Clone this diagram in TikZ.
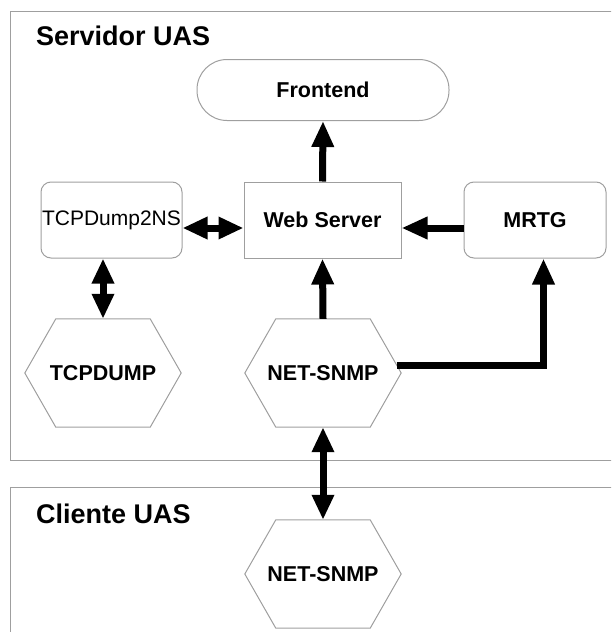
\documentclass[tikz,border=0pt]{standalone}
\usepackage{fontspec}
\setmainfont{Liberation Sans}
\usetikzlibrary{arrows.meta,positioning}

\begin{document}
\begin{tikzpicture}[x=1pt,y=-1pt,
    txt/.style={font=\fontsize{21.5}{24}\selectfont\bfseries},
    title/.style={anchor=base west, inner sep=0pt, font=\fontsize{27}{30}\selectfont\bfseries},
    edge/.style={draw=gray!75, line width=1pt},
    blk/.style={edge, inner sep=0pt, minimum height=76pt, txt},
    hexa/.style={inner sep=0pt, minimum width=156pt, minimum height=108pt, txt},
    arr/.style={line width=7pt, -{Triangle[length=26pt,width=21pt]}},
    darr/.style={line width=7pt, {Triangle[length=25pt,width=21pt]}-{Triangle[length=25pt,width=21pt]}}]
        \def\inset{31pt}%
        \clip (0,0) rectangle (611,632);

        % the two machines
        \draw[edge] (10.5,11) rectangle (650,460.5);
        \draw[edge] (10.5,487) rectangle (650,700);
        \node[title] (srv) at (36,45) {Servidor UAS};
        \node[title] (cli) at (36,523) {Cliente UAS};

        % blocks
        \node[blk, rounded corners=30pt, minimum width=252pt, minimum height=61pt] (front) at (323,90) {Frontend};
        \node[blk, minimum width=157pt] (web) at (322.5,220) {Web Server};
        \node[blk, rounded corners=10pt, minimum width=141pt, font=\fontsize{21}{24}\selectfont] (tcp2ns) at (111.5,220) {TCPDump2NS};
        \node[blk, rounded corners=10pt, minimum width=142pt] (mrtg) at (535,220) {MRTG};
        \node[hexa] (tcpdump) at (103,373) {TCPDUMP};
        \node[hexa] (snmp) at (323,373) {NET-SNMP};
        \node[hexa] (snmpc) at (323,574) {NET-SNMP};

        \foreach \n in {tcpdump, snmp, snmpc} {%
          \draw[edge] (\n.west) -- ([xshift=\inset]\n.north west) -- ([xshift=-\inset]\n.north east)
            -- (\n.east) -- ([xshift=-\inset]\n.south east) -- ([xshift=\inset]\n.south west) -- cycle; }%

        % connectors
        \draw[arr] (web.north) -- (front.south);
        \draw[arr] (mrtg.west |- 0,228) -- (web.east |- 0,228);
        \draw[darr] (tcp2ns.east |- 0,228) -- (web.west |- 0,228);
        \draw[darr] (tcpdump.north |- tcp2ns.south) -- (tcpdump.north);
        \draw[arr] (snmp.north) -- (web.south);
        \draw[arr] ([xshift=-4.6pt,yshift=8pt]snmp.east) -| ([xshift=8.5pt]mrtg.south);
        \draw[darr] (snmp.south) -- (snmpc.north);
\end{tikzpicture}
\end{document}
